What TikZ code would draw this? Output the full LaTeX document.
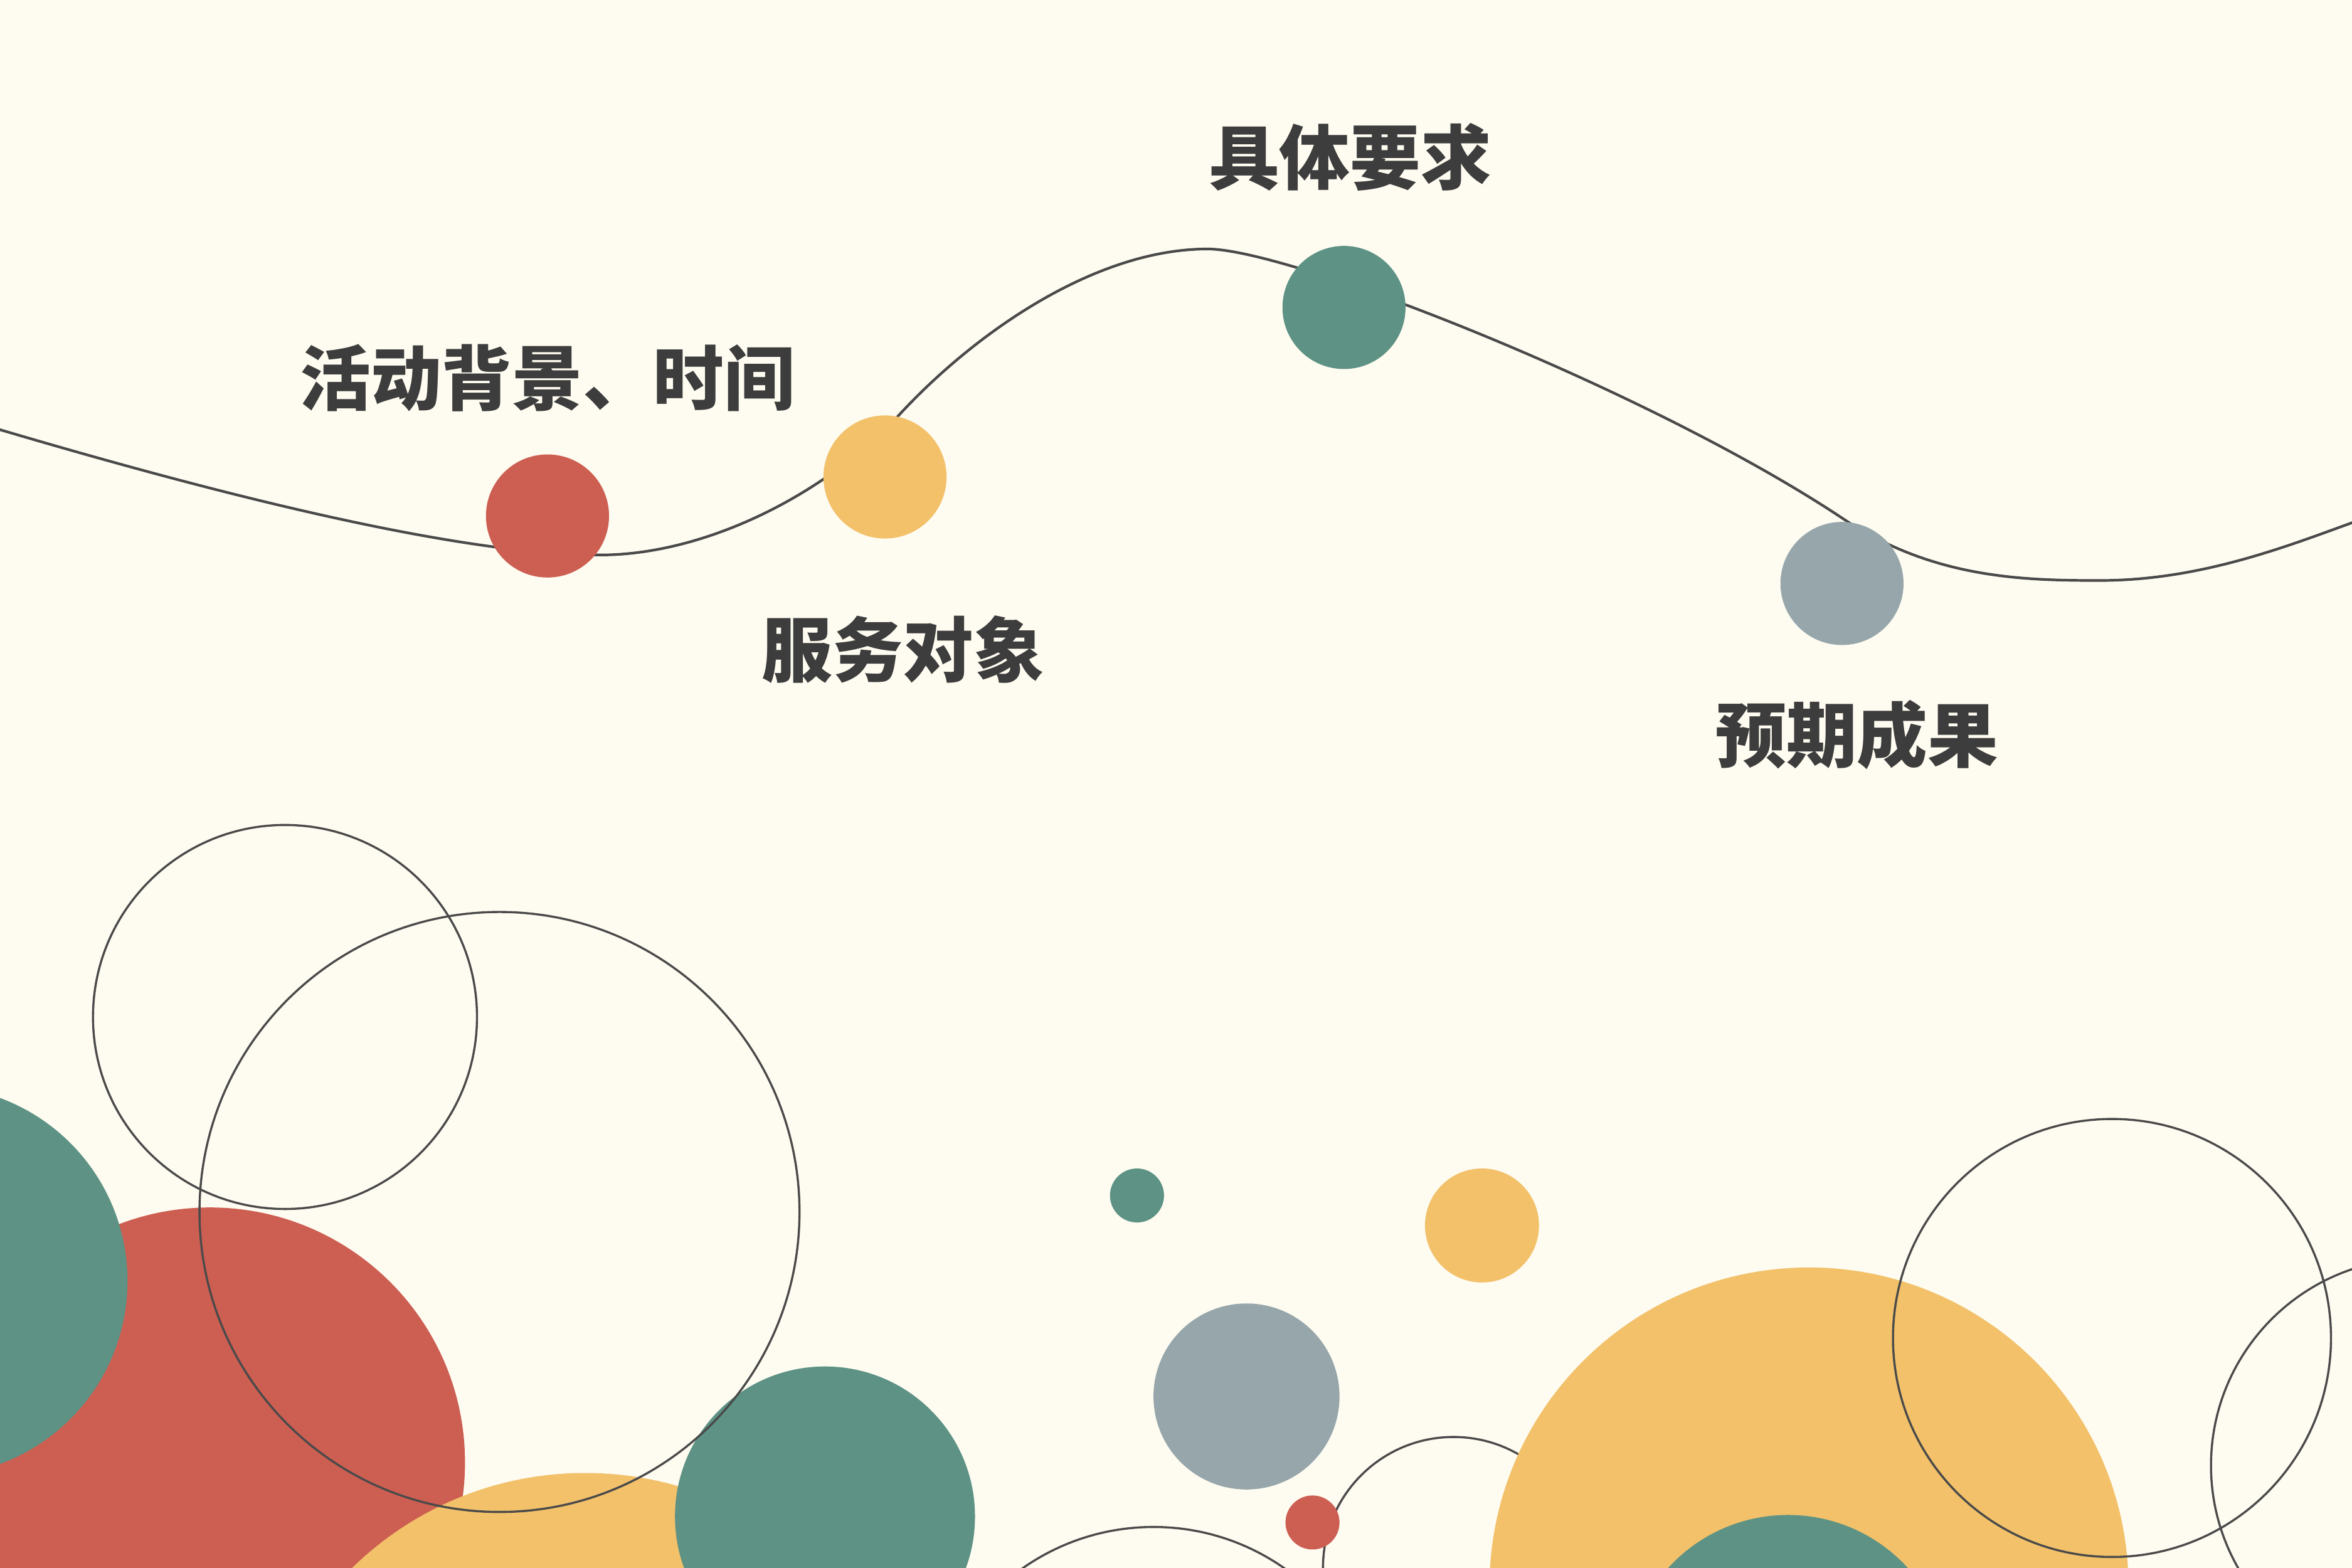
\documentclass[tikz,border=0pt]{standalone}
\usepackage{fontspec}
\newfontfamily\cjk{Noto Sans CJK SC}
\usepackage{xcolor}
\usetikzlibrary{positioning}
\definecolor{bgcol}{HTML}{FEFBF0}
\definecolor{redc}{HTML}{CD5E52}
\definecolor{yelc}{HTML}{F2C16A}
\definecolor{teac}{HTML}{5D9285}
\definecolor{grec}{HTML}{96A6AB}
\definecolor{txtc}{HTML}{3D3D3D}
\definecolor{linc}{HTML}{4A4A4A}

\begin{document}
\begin{tikzpicture}
		[x=0.01cm,y=-0.01cm,
		dot/.style={circle,inner sep=0pt,minimum size=8.2mm},
		lab/.style={font=\cjk\bfseries\fontsize{13.4}{16}\selectfont,text=txtc,inner sep=0pt,on grid},
		ring/.style={draw=linc,line width=0.4pt},
		wave/.style={draw=linc,line width=0.5pt}]
		\fill[bgcol] (0,0) rectangle (1568,1045.3);
		\useasboundingbox (0,0) rectangle (1568,1045.3);
		\clip (0,0) rectangle (1568,1045.3);
		% the line
		\draw[wave] (-5,285) .. controls (130,325) and (300,370) .. (400,370)
			.. controls (470,370) and (550,330) .. (600,276)
			.. controls (650,222) and (730,166) .. (805,166)
			.. controls (860,166) and (1100,260) .. (1229,346)
			.. controls (1289,386) and (1350,387) .. (1400,387)
			.. controls (1470,387) and (1530,362) .. (1575,346);
		% the four steps
		\node[dot,fill=redc] (bgdot) at (365,344) {};
		\node[dot,fill=yelc] (objdot) at (590,318) {};
		\node[dot,fill=teac] (reqdot) at (896,205) {};
		\node[dot,fill=grec] (resdot) at (1228,389) {};
		\node[lab,above=9.2mm of bgdot] (bgtxt) {活动背景、时间};
		\node[lab,below right=11.5mm and 1.2mm of objdot] (objtxt) {服务对象};
		\node[lab,above right=10mm and 0.4mm of reqdot] (reqtxt) {具体要求};
		\node[lab,below right=10.1mm and 1mm of resdot] (restxt) {预期成果};
		% bubbles
		\draw[ring] (969,1045) circle (87);
		\fill[redc] (140,975) circle (170);
		\fill[teac] (-45,854) circle (130);
		\fill[yelc] (390,1204) circle (222);
		\fill[teac] (550,1011) circle (100);
		\fill[teac] (758,797) circle (18);
		\fill[yelc] (988,817) circle (38);
		\fill[grec] (831,931) circle (62);
		\fill[redc] (875,1015) circle (18);
		\draw[ring] (769,1170) circle (152);
		\fill[yelc] (1206,1058) circle (213);
		\fill[teac] (1192,1118) circle (108);
		\draw[ring] (190,678) circle (128);
		\draw[ring] (333,808) circle (200);
		\draw[ring] (1408,892) circle (146);
		\draw[ring] (1612,977) circle (138);
\end{tikzpicture}
\end{document}
